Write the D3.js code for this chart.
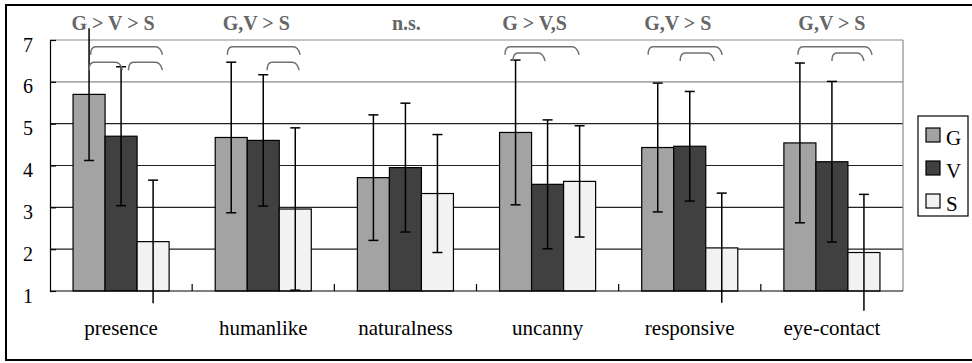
<!DOCTYPE html>
<html>
<head>
<meta charset="utf-8">
<script src="https://cdn.jsdelivr.net/npm/d3@7"></script>
<style>
  html, body { margin: 0; padding: 0; background: #fff; }
  #chart { display: block; }
  #chart text { font-family: 'Liberation Serif', 'Times New Roman', Tinos; }
</style>
</head>
<body>
<svg id="chart" width="972" height="363" font-family="Liberation Serif"></svg>
<script>
// data
const categories = ['presence', 'humanlike', 'naturalness', 'uncanny', 'responsive', 'eye-contact'];
const series = ['G', 'V', 'S'];
const meanG = [5.70, 4.67, 3.71, 4.79, 4.43, 4.54];
const meanV = [4.70, 4.60, 3.95, 3.55, 4.46, 4.09];
const meanS = [2.18, 2.96, 3.33, 3.62, 2.03, 1.92];
const sdG = [1.58, 1.80, 1.50, 1.73, 1.54, 1.91];
const sdV = [1.66, 1.57, 1.54, 1.54, 1.31, 1.92];
const sdS = [1.47, 1.94, 1.41, 1.33, 1.31, 1.39];
const sigLabels = ['G > V > S', 'G,V > S', 'n.s.', 'G > V,S', 'G,V > S', 'G,V > S'];
// brackets: category, start and end (in bar steps from the G bar centre), height (y units)
const brackets = [
  ['presence', 0.05, 2.23, 6.84], ['presence', 0.0, 0.98, 6.47], ['presence', 1.23, 2.23, 6.47],
  ['humanlike', -0.12, 2.09, 6.84], ['humanlike', 1.12, 2.06, 6.47],
  ['uncanny', -0.33, 1.92, 6.84], ['uncanny', -0.08, 0.86, 6.69],
  ['responsive', -0.3, 1.95, 6.84], ['responsive', 0.7, 1.7, 6.69],
  ['eye-contact', -0.06, 2.19, 6.84], ['eye-contact', 1.0, 1.94, 6.69]
];
const yTicks = [1, 2, 3, 4, 5, 6, 7];

// layout
const sigShift = [-8, -7, 1, -13, -12, 0];
const colors = { G: '#a3a3a3', V: '#404040', S: '#f2f2f2' };
const serif = "'Liberation Serif', 'Times New Roman', Tinos";

const means = { G: meanG, V: meanV, S: meanS };
const sds = { G: sdG, V: sdV, S: sdS };

const svg = d3.select('#chart');

// outer frame
svg.append('rect')
  .attr('x', 6).attr('y', 5).attr('width', 980).attr('height', 355)
  .attr('fill', 'none').attr('stroke', '#000').attr('stroke-width', 2);

const plotL = 50, plotR = 903, plotT = 40, plotB = 291;

const x0 = d3.scaleBand().domain(categories).range([plotL, plotR]);
const x1 = d3.scaleBand().domain(series).range([0, x0.bandwidth()]).paddingOuter(0.72);
const y = d3.scaleLinear().domain([1, 7]).range([plotB, plotT]);

// grid lines
svg.append('g').selectAll('line')
  .data(yTicks.slice(1))
  .enter().append('line')
  .attr('x1', plotL).attr('x2', plotR)
  .attr('y1', d => y(d)).attr('y2', d => y(d))
  .attr('stroke', d => d >= 6 ? '#8a8a8a' : '#222')
  .attr('stroke-width', 1.2);

// right border of plot
svg.append('line')
  .attr('x1', plotR).attr('x2', plotR).attr('y1', plotT).attr('y2', plotB)
  .attr('stroke', '#8a8a8a').attr('stroke-width', 1.2);

// bars
const groups = svg.append('g').selectAll('g')
  .data(categories)
  .enter().append('g')
  .attr('transform', d => `translate(${x0(d)},0)`);

groups.selectAll('rect')
  .data((c, i) => series.map(s => ({ s, m: means[s][i], sd: sds[s][i] })))
  .enter().append('rect')
  .attr('x', d => x1(d.s))
  .attr('y', d => y(d.m))
  .attr('width', x1.bandwidth())
  .attr('height', d => y(1) - y(d.m))
  .attr('fill', d => colors[d.s])
  .attr('stroke', '#000')
  .attr('stroke-width', 1.2);

// error bars
const err = groups.selectAll('g.err')
  .data((c, i) => series.map(s => ({ s, m: means[s][i], sd: sds[s][i] })))
  .enter().append('g')
  .attr('class', 'err')
  .attr('transform', d => `translate(${x1(d.s) + x1.bandwidth() / 2},0)`);

err.append('line')
  .attr('y1', d => y(d.m + d.sd)).attr('y2', d => y(d.m - d.sd))
  .attr('stroke', '#000').attr('stroke-width', 1.5);

err.selectAll('line.cap')
  .data(d => [d.m + d.sd, d.m - d.sd].filter(v => v >= 1 && v <= 7))
  .enter().append('line')
  .attr('class', 'cap')
  .attr('x1', -5).attr('x2', 5)
  .attr('y1', d => y(d)).attr('y2', d => y(d))
  .attr('stroke', '#000').attr('stroke-width', 1.5);

// y axis, ticks drawn inward
const yAxis = svg.append('g')
  .attr('transform', `translate(${plotL},0)`)
  .call(d3.axisLeft(y).tickValues(yTicks).tickSize(-6).tickPadding(17).tickFormat(d3.format('d')));
yAxis.attr('font-family', serif).attr('font-size', 20);
yAxis.select('.domain').attr('stroke', '#000').attr('stroke-width', 1.2);
yAxis.selectAll('.tick line').attr('stroke', '#000').attr('stroke-width', 1.2);
yAxis.selectAll('.tick text')
  .style('font-family', serif).style('font-size', '20px')
  .attr('fill', '#000').attr('dy', '0.55em');

svg.append('line')
  .attr('x1', plotL).attr('x2', plotR).attr('y1', plotB).attr('y2', plotB)
  .attr('stroke', '#000').attr('stroke-width', 1.2);

// category ticks
svg.append('g').selectAll('line')
  .data(categories.slice(1))
  .enter().append('line')
  .attr('x1', d => x0(d)).attr('x2', d => x0(d))
  .attr('y1', plotB).attr('y2', plotB - 7)
  .attr('stroke', '#000').attr('stroke-width', 1.2);

// category labels
svg.append('g').selectAll('text')
  .data(categories)
  .enter().append('text')
  .attr('x', d => x0(d) + x0.bandwidth() / 2)
  .attr('y', 335)
  .attr('text-anchor', 'middle')
  .attr('font-family', serif)
  .style('font-family', serif)
  .style('font-size', '21px')
  .text(d => d);

// significance labels
svg.append('g').selectAll('text')
  .data(sigLabels)
  .enter().append('text')
  .attr('x', (d, i) => x0(categories[i]) + x0.bandwidth() / 2 + sigShift[i])
  .attr('y', 30)
  .attr('text-anchor', 'middle')
  .attr('font-family', serif)
  .style('font-family', serif)
  .style('font-size', '20px')
  .style('font-weight', 'bold')
  .attr('fill', '#666')
  .text(d => d);

// brackets
const step = x1.step();
svg.append('g').selectAll('path')
  .data(brackets)
  .enter().append('path')
  .attr('d', d => {
    const c = x0(d[0]) + x1('G') + x1.bandwidth() / 2;
    const xa = c + d[1] * step;
    const xb = c + d[2] * step;
    const yy = y(d[3]);
    return `M${xa},${yy + 8} Q${xa},${yy} ${xa + 5},${yy} L${xb - 5},${yy} Q${xb},${yy} ${xb + 2},${yy + 8}`;
  })
  .attr('fill', 'none')
  .attr('stroke', '#707070')
  .attr('stroke-width', 1.5);

// legend
const legend = svg.append('g').attr('transform', 'translate(918,116)');
legend.append('rect')
  .attr('width', 50).attr('height', 100)
  .attr('fill', '#fff').attr('stroke', '#000').attr('stroke-width', 1.2);
const item = legend.selectAll('g')
  .data(series)
  .enter().append('g')
  .attr('transform', (d, i) => `translate(8,${12 + i * 33})`);
item.append('rect')
  .attr('width', 14).attr('height', 14)
  .attr('fill', d => colors[d]).attr('stroke', '#000').attr('stroke-width', 1.2);
item.append('text')
  .attr('x', 20).attr('y', 17)
  .attr('font-family', serif)
  .style('font-family', serif)
  .style('font-size', '21px')
  .text(d => d);
</script>
</body>
</html>
